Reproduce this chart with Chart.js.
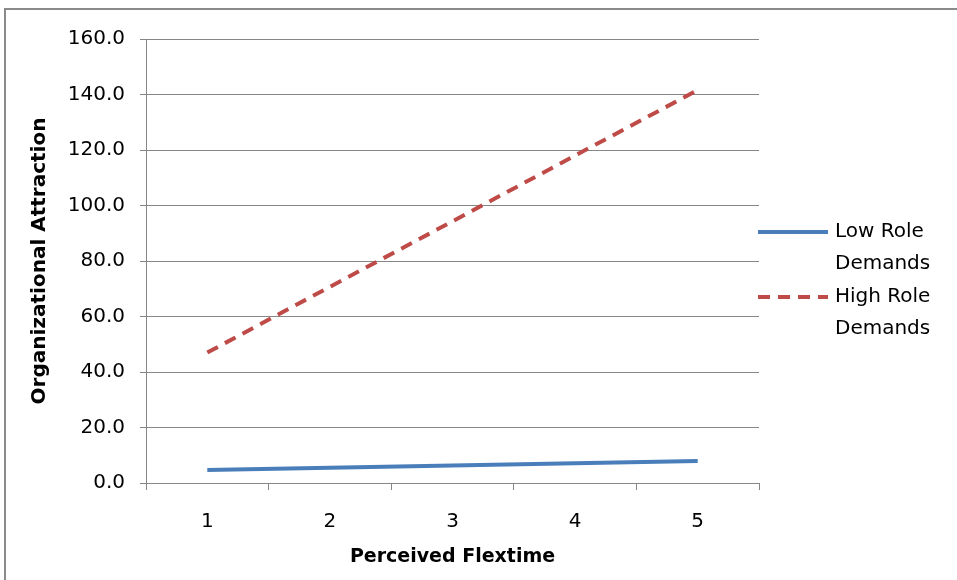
<!DOCTYPE html>
<html>
<head>
<meta charset="utf-8">
<script src="https://cdn.jsdelivr.net/npm/chart.js@4/dist/chart.umd.min.js"></script>
<style>
  html, body { margin: 0; padding: 0; background: #fff; overflow: hidden; }
  #frame { position: absolute; left: 4px; top: 8px; width: 1000px; height: 640px; border: 2px solid #8a8a8a; }
  #wrap { position: absolute; left: 0; top: 0; width: 957px; height: 580px; }
</style>
</head>
<body>
<div id="frame"></div>
<div id="wrap"><canvas id="line-chart" width="957" height="580"></canvas></div>
<script>
const flextime = ['1', '2', '3', '4', '5']
const lowRoleDemands = [4.7, 5.5, 6.3, 7.1, 7.9]
const highRoleDemands = [47.0, 70.7, 94.3, 118.0, 141.6]
const legendLabels = [['Low Role', 'Demands'], ['High Role', 'Demands']]

const FONT = '"DejaVu Sans", sans-serif'

// legend with two-line labels, drawn to the right of the plot
const sideLegend = {
    id: 'sideLegend',
    afterDraw(chart) {
        const ctx = chart.ctx
        const x0 = chart.chartArea.right - 1
        const rows = [232, 297]
        ctx.save()
        chart.data.datasets.forEach((ds, i) => {
            const y = rows[i]
            ctx.beginPath()
            ctx.strokeStyle = ds.borderColor
            ctx.lineWidth = ds.borderWidth
            ctx.lineCap = 'butt'
            ctx.setLineDash(ds.borderDash || [])
            ctx.moveTo(x0, y)
            ctx.lineTo(x0 + 70, y)
            ctx.stroke()
            ctx.setLineDash([])
            ctx.fillStyle = '#000'
            ctx.font = '20px ' + FONT
            ctx.textBaseline = 'middle'
            legendLabels[i].forEach((t, j) => ctx.fillText(t, x0 + 77, y + j * 32))
        })
        ctx.restore()
    }
}

const ctx = document.getElementById('line-chart').getContext('2d')
new Chart(ctx, {
    type: 'line',
    data: {
        labels: flextime,
        datasets: [{
            label: 'Low Role Demands',
            data: lowRoleDemands,
            borderColor: '#4a7ebb',
            borderWidth: 4,
            pointRadius: 0,
            tension: 0
        }, {
            label: 'High Role Demands',
            data: highRoleDemands,
            borderColor: '#be4b48',
            borderWidth: 4,
            borderDash: [12, 8],
            pointRadius: 0,
            tension: 0
        }]
    },
    options: {
        responsive: false,
        animation: false,
        layout: { padding: { left: 24, top: 39, right: 198, bottom: 0 } },
        plugins: {
            legend: { display: false },
            tooltip: { enabled: false }
        },
        scales: {
            x: {
                offset: true,
                border: { color: '#868686', width: 1 },
                grid: { offset: true, drawOnChartArea: false, color: '#868686', tickLength: 7 },
                ticks: { color: '#000', font: { family: FONT, size: 20 }, padding: 20 },
                title: {
                    display: true, text: 'Perceived Flextime', color: '#000',
                    font: { family: FONT, size: 19, weight: 'bold' }, padding: { top: 4, bottom: 12 }
                },
                afterFit: scale => { scale.height = 97 }
            },
            y: {
                min: 0,
                max: 160,
                border: { color: '#868686', width: 1 },
                grid: { color: '#868686', tickLength: 6 },
                ticks: {
                    stepSize: 20, color: '#000', font: { family: FONT, size: 20 }, padding: 15,
                    callback: v => v.toFixed(1)
                },
                title: {
                    display: true, text: 'Organizational Attraction', color: '#000',
                    font: { family: FONT, size: 20, weight: 'bold' }, padding: { top: 4, bottom: 4 }
                },
                afterFit: scale => { scale.width = 122 }
            }
        }
    },
    plugins: [sideLegend]
})
</script>
</body>
</html>
